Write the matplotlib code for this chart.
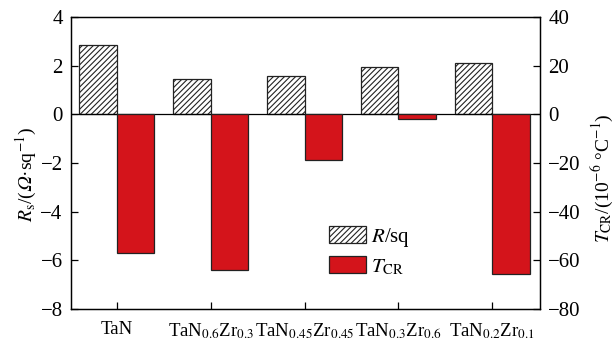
import matplotlib
matplotlib.use("Agg")
import matplotlib.pyplot as plt
import numpy as np

plt.rcParams['font.family'] = ['Liberation Serif', 'DejaVu Serif']
plt.rcParams['mathtext.fontset'] = 'stix'
plt.rcParams['hatch.linewidth'] = 0.8

categories = ['TaN', 'TaN$_{0.6}$Zr$_{0.3}$', 'TaN$_{0.45}$Zr$_{0.45}$',
              'TaN$_{0.3}$Zr$_{0.6}$', 'TaN$_{0.2}$Zr$_{0.1}$']
rs_values = [2.84, 1.45, 1.57, 1.95, 2.09]
tcr_values = [-56.9, -64.0, -18.7, -2.0, -65.8]
left_ticks = [-8, -6, -4, -2, 0, 2, 4]
right_ticks = [-80, -60, -40, -20, 0, 20, 40]

red = '#d4141b'
fig = plt.figure(figsize=(6.14, 3.44), dpi=100)
ax = fig.add_axes([71/614, 35/344, 469/614, 292/344])
ax2 = ax.twinx()

x = np.arange(len(categories))
w = 0.4
ax.bar(x - w/2, rs_values, w, facecolor='white', edgecolor='#222222',
       hatch='//////', linewidth=0.9, label='$R$/sq', zorder=2)
ax2.bar(x + w/2, tcr_values, w, facecolor=red, edgecolor='#222222',
        linewidth=0.9, label='$T_{\\mathrm{CR}}$', zorder=2)
ax.axhline(0, color='black', linewidth=0.9, zorder=3)

ax.set_xlim(-0.49, 4.51)
ax.set_ylim(-8, 4)
ax2.set_ylim(-80, 40)
ax.set_yticks(left_ticks)
ax2.set_yticks(right_ticks)
ax.set_yticklabels(['\u2212' + str(-t) if t < 0 else str(t) for t in left_ticks])
ax2.set_yticklabels(['\u2212' + str(-t) if t < 0 else str(t) for t in right_ticks])
ax.set_xticks(x)
ax.set_xticklabels(categories)

for a in (ax, ax2):
    a.tick_params(direction='in', labelsize=15, length=5, width=0.9, pad=6)
    for s in a.spines.values():
        s.set_linewidth(0.9)
ax.tick_params(axis='x', pad=9, labelsize=13.5)

fig.text(26/614, 1 - 175/344, '$R_{\\mathrm{s}}$/($\U0001D6FA$\u00b7sq$^{-1}$)',
         fontsize=14, rotation=90, ha='center', va='center')
fig.text(602/614, 1 - 178/344, '$T_{\\mathrm{CR}}$/(10$^{-6}$ \u00b0C$^{-1}$)',
         fontsize=14, rotation=90, ha='center', va='center')

h1, l1 = ax.get_legend_handles_labels()
h2, l2 = ax2.get_legend_handles_labels()
ax2.legend(h1 + h2, l1 + l2, loc='lower left', bbox_to_anchor=(0.55, 0.11),
           frameon=False, fontsize=15, handlelength=1.8, handleheight=0.87,
           handletextpad=0.2, labelspacing=0.35, borderpad=0, borderaxespad=0)

fig.savefig('out.png', dpi=100)
